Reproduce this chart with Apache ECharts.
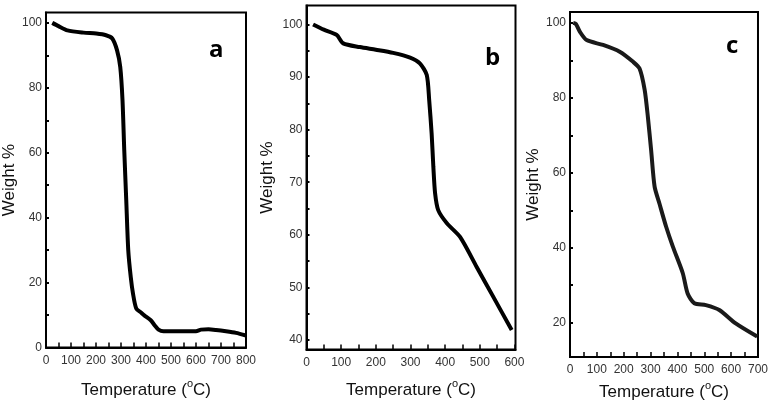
<!DOCTYPE html>
<html>
<head>
<meta charset="utf-8">
<script src="https://cdn.jsdelivr.net/npm/echarts@6/dist/echarts.min.js"></script>
<style>html,body{margin:0;padding:0;background:#fff}#c{width:771px;height:409px}</style>
</head>
<body>
<div id="c"></div>
<script>
// Panel a
const aTemp   = [25, 50, 86, 150, 201, 240, 265, 284, 297, 306, 313, 321, 329, 339, 348, 361, 380, 393, 419, 435, 450, 470, 495, 550, 600, 620, 650, 680, 720, 760, 800];
const aWeight = [100, 99, 97.7, 97.0, 96.7, 96.2, 95.2, 91.6, 86.4, 76.2, 60.8, 45.4, 30, 21.7, 16.6, 12, 10.8, 9.9, 8.4, 6.8, 5.5, 5.0, 5.0, 5.0, 5.0, 5.5, 5.6, 5.4, 5.0, 4.5, 3.7];
// Panel b
const bTemp   = [19, 50, 87, 106, 154, 200, 250, 299, 327, 347, 354, 361, 366, 371, 380, 405, 443, 491, 539, 592];
const bWeight = [100, 99.0, 98.0, 96.4, 95.7, 95.2, 94.6, 93.7, 92.6, 90.4, 85.6, 79.3, 72.9, 67.9, 64.7, 62.2, 59.6, 53.9, 48.2, 41.9];
// Panel c
const cTemp   = [12, 22, 37, 62, 123, 185, 235, 259, 278, 290, 302, 315, 333, 358, 383, 420, 438, 463, 506, 556, 617, 697];
const cWeight = [100, 99.7, 97.6, 95.4, 94.1, 92.3, 89.6, 87.8, 82.1, 74.9, 66.1, 56.3, 51.8, 45.6, 40.3, 33.2, 27.8, 25.2, 24.7, 23.4, 19.8, 16.3];

// Tick labels
const aXLabels = [0, 100, 200, 300, 400, 500, 600, 700, 800];
const aYLabels = [0, 20, 40, 60, 80, 100];
const bXLabels = [0, 100, 200, 300, 400, 500, 600];
const bYLabels = [40, 50, 60, 70, 80, 90, 100];
const cXLabels = [0, 100, 200, 300, 400, 500, 600, 700];
const cYLabels = [20, 40, 60, 80, 100];
const panelLetters = ['a', 'b', 'c'];
const xTitle = 'Temperature';
const yTitle = 'Weight %';

function steps(a, b, s) { const r = []; for (let v = a; v <= b + 1e-9; v += s) r.push(v); return r; }
function zip(x, y) { return x.map((v, i) => [v, y[i]]); }

const labelFont = { fontFamily: "'Liberation Sans',Arial,sans-serif", fontSize: 12, color: '#333' };

function xAxis(idx, min, max, labels, tickStep, nameGap) {
  return {
    type: 'value', gridIndex: idx, min: min, max: max,
    splitLine: { show: false },
    axisLine: { onZero: false, lineStyle: { color: '#000', width: 2 } },
    axisTick: { inside: true, length: 5, lineStyle: { color: '#000', width: 1.5 }, customValues: steps(min, max, tickStep) },
    axisLabel: Object.assign({ margin: 7, customValues: labels }, labelFont),
    name: '{t|' + xTitle + ' (}{s|o}{t|C)}',
    nameLocation: 'middle', nameGap: nameGap,
    nameTextStyle: { rich: {
      t: { fontFamily: "'Liberation Sans',Arial,sans-serif", fontSize: 17, color: '#111', lineHeight: 20, verticalAlign: 'bottom' },
      s: { fontFamily: "'Liberation Sans',Arial,sans-serif", fontSize: 11, color: '#111', lineHeight: 20, verticalAlign: 'top', padding: [0, 0, 8, 0] }
    } }
  };
}
function yAxis(idx, min, max, labels, ticks, nameGap) {
  return {
    type: 'value', gridIndex: idx, min: min, max: max,
    splitLine: { show: false },
    axisLine: { onZero: false, lineStyle: { color: '#000', width: 2 } },
    axisTick: { inside: true, length: 3, lineStyle: { color: '#000', width: 2 }, customValues: ticks },
    axisLabel: Object.assign({ margin: 4, customValues: labels }, labelFont),
    name: yTitle, nameLocation: 'middle', nameGap: nameGap, nameRotate: 90,
    nameTextStyle: { fontFamily: "'Liberation Sans',Arial,sans-serif", fontSize: 17, color: '#111' }
  };
}

const gridBase = { show: true, borderColor: '#000', borderWidth: 2, backgroundColor: 'transparent' };
const lineBase = { type: 'line', showSymbol: false, smooth: 0.25 };
const chart = echarts.init(document.getElementById('c'), null, { renderer: 'canvas' });
chart.setOption({
  animation: false,
  backgroundColor: '#fff',
  grid: [
    Object.assign({ left: 37.5, top: 12.5, width: 208.5, height: 335 }, gridBase),
    Object.assign({ left: 306.5, top: 5.5, width: 209, height: 344 }, gridBase),
    Object.assign({ left: 570, top: 12, width: 189, height: 345 }, gridBase)
  ],
  xAxis: [
    xAxis(0, 0, 800, aXLabels, 50, 31),
    xAxis(1, 0, 603, bXLabels, 50, 29),
    xAxis(2, 0, 700, cXLabels, 50, 22)
  ],
  yAxis: [
    yAxis(0, 0, 103.2, aYLabels, steps(0, 100, 10), 28),
    yAxis(1, 38.2, 103.6, bYLabels, steps(40, 100, 5), 31),
    yAxis(2, 10.85, 102.9, cYLabels, steps(20, 100, 10), 25)
  ],
  series: [
    Object.assign({ xAxisIndex: 0, yAxisIndex: 0, data: zip(aTemp, aWeight), lineStyle: { color: '#000', width: 4 } }, lineBase),
    Object.assign({ xAxisIndex: 1, yAxisIndex: 1, data: zip(bTemp, bWeight), lineStyle: { color: '#000', width: 4 } }, lineBase),
    Object.assign({ xAxisIndex: 2, yAxisIndex: 2, data: zip(cTemp, cWeight), lineStyle: { color: '#1a1a1a', width: 4 } }, lineBase)
  ],
  graphic: [
    { type: 'text', left: 209, top: 38, style: { text: panelLetters[0], font: "bold 24px 'Open Sans',sans-serif", fill: '#000' } },
    { type: 'text', left: 485, top: 46, style: { text: panelLetters[1], font: "bold 24px 'Open Sans',sans-serif", fill: '#000' } },
    { type: 'text', left: 726, top: 34, style: { text: panelLetters[2], font: "bold 24px 'Open Sans',sans-serif", fill: '#000' } }
  ]
});
</script>
</body>
</html>
